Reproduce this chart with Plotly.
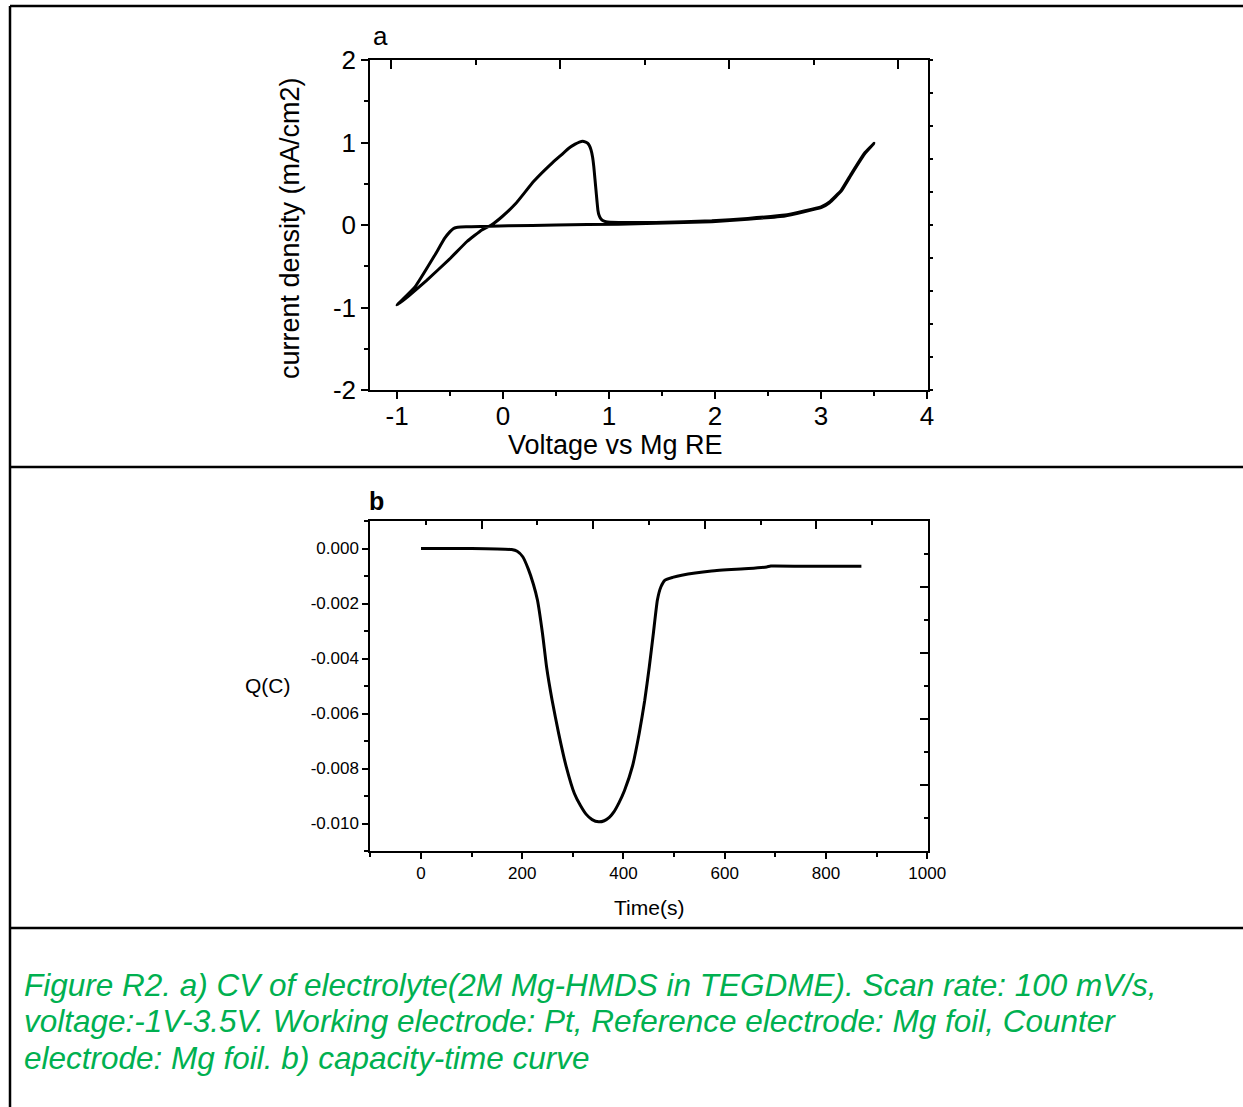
import plotly.graph_objects as go

# ---------------- data ----------------
# Panel a: cyclic voltammogram, one full cycle starting at -1 V (anodic sweep, then return)
cv_voltage = [-1.00, -0.90, -0.72, -0.51, -0.34, -0.20, -0.11, -0.01, 0.12, 0.29, 0.47, 0.55, 0.62,
              0.68, 0.72, 0.75, 0.78, 0.80, 0.815, 0.83, 0.845, 0.856, 0.867, 0.877, 0.887, 0.895,
              0.905, 0.92, 0.94, 0.97, 1.09, 1.44, 1.97, 2.31, 2.66, 2.84, 3.00, 3.08, 3.19, 3.29,
              3.41, 3.50,
              3.41, 3.29, 3.19, 3.08, 3.00, 2.84, 2.66, 2.31, 1.97, 1.44, 1.09, 0.50, 0.05, -0.30,
              -0.40, -0.44, -0.47, -0.50, -0.55, -0.65, -0.83, -1.00]
cv_current = [-0.97, -0.87, -0.67, -0.42, -0.20, -0.06, 0.00, 0.10, 0.26, 0.53, 0.76, 0.85, 0.93,
              0.98, 1.005, 1.015, 1.005, 0.99, 0.96, 0.91, 0.82, 0.71, 0.56, 0.42, 0.28, 0.18,
              0.12, 0.08, 0.055, 0.04, 0.03, 0.03, 0.05, 0.08, 0.12, 0.17, 0.22, 0.28, 0.42, 0.63,
              0.87, 0.99,
              0.86, 0.62, 0.41, 0.27, 0.21, 0.16, 0.11, 0.07, 0.04, 0.02, 0.01, 0.00, -0.01, -0.02,
              -0.025, -0.03, -0.045, -0.08, -0.16, -0.38, -0.75, -0.97]

# Panel b: capacity-time curve
time_s = [0, 100, 179, 190, 201, 212, 222, 230, 240, 248, 259, 272, 287, 303, 315, 326, 338, 351,
          362, 372, 381, 391, 402, 418, 431, 442, 451, 459, 467, 474, 482, 497, 515, 574, 647, 683,
          691, 757, 870]
charge_mC = [0.00, 0.00, -0.04, -0.10, -0.30, -0.75, -1.30, -1.87, -3.09, -4.30, -5.52, -6.73,
             -7.94, -8.91, -9.35, -9.66, -9.86, -9.94, -9.90, -9.78, -9.58, -9.25, -8.80, -7.90,
             -6.73, -5.52, -4.30, -3.09, -1.87, -1.39, -1.15, -1.05, -0.97, -0.82, -0.73, -0.67,
             -0.64, -0.65, -0.65]
charge_C = [q / 1000.0 for q in charge_mC]

# tick labels
a_xtick_vals = [-1, 0, 1, 2, 3, 4]
a_xtick_text = ["-1", "0", "1", "2", "3", "4"]
a_ytick_vals = [-2, -1, 0, 1, 2]
a_ytick_text = ["-2", "-1", "0", "1", "2"]
b_xtick_vals = [0, 200, 400, 600, 800, 1000]
b_xtick_text = ["0", "200", "400", "600", "800", "1000"]
b_ytick_vals = [0.000, -0.002, -0.004, -0.006, -0.008, -0.010]
b_ytick_text = ["0.000", "-0.002", "-0.004", "-0.006", "-0.008", "-0.010"]

caption_lines = [
    "Figure R2. a) CV of electrolyte(2M Mg-HMDS in TEGDME). Scan rate: 100 mV/s,",
    "voltage:-1V-3.5V. Working electrode: Pt, Reference electrode: Mg foil, Counter",
    "electrode: Mg foil. b) capacity-time curve",
]

# ---------------- layout helpers ----------------
W, H = 1243, 1107
FONT = "Arial, 'Liberation Sans', sans-serif"


def px(x):
    return x / W


def py(y):
    return 1 - y / H


xdom = [px(370), px(928)]
ydom_a = [py(390), py(60)]
ydom_b = [py(851), py(521)]

fig = go.Figure()
fig.add_trace(go.Scatter(x=cv_voltage, y=cv_current, mode="lines",
                         line=dict(color="black", width=3, shape="spline", smoothing=0.3),
                         xaxis="x", yaxis="y", showlegend=False))
fig.add_trace(go.Scatter(x=time_s, y=charge_C, mode="lines",
                         line=dict(color="black", width=3, shape="spline", smoothing=0.5),
                         xaxis="x3", yaxis="y3", showlegend=False))

axis_common = dict(showgrid=False, zeroline=False, showline=True, linecolor="black",
                   linewidth=1.5, tickcolor="black", tickwidth=1.5, automargin=False)

fig.update_layout(
    template="none",
    width=W, height=H, autosize=False,
    margin=dict(l=0, r=0, t=0, b=0, pad=0, autoexpand=False),
    showlegend=False,
    paper_bgcolor="white", plot_bgcolor="rgba(0,0,0,0)",
    font=dict(family=FONT, color="black"),
    # ---- panel a ----
    xaxis=dict(domain=xdom, anchor="y", range=[-1.255, 4.009], ticks="outside", ticklen=7,
               tickvals=a_xtick_vals, ticktext=a_xtick_text, tickfont=dict(size=26),
               ticklabelstandoff=-5,
               minor=dict(dtick=0.5, tick0=0, ticks="outside", ticklen=4, tickcolor="black",
                          tickwidth=1.5, showgrid=False), **axis_common),
    xaxis2=dict(overlaying="x", anchor="y", side="top", range=[-0.25, 6.354], ticks="inside",
                ticklen=9, tickvals=[0, 2, 4, 6], showticklabels=False,
                minor=dict(tickvals=[1, 3, 5], ticks="inside", ticklen=5, tickcolor="black",
                           tickwidth=1.5, showgrid=False), **axis_common),
    yaxis=dict(domain=ydom_a, anchor="x", range=[-2, 2], ticks="outside", ticklen=7,
               tickvals=a_ytick_vals, ticktext=a_ytick_text, tickfont=dict(size=26),
               minor=dict(dtick=0.5, tick0=0, ticks="outside", ticklen=4, tickcolor="black",
                          tickwidth=1.5, showgrid=False), **axis_common),
    yaxis2=dict(overlaying="y", anchor="x", side="right", range=[0, 10], ticks="outside",
                ticklen=3, dtick=1, showticklabels=False, **axis_common),
    # ---- panel b ----
    xaxis3=dict(domain=xdom, anchor="y3", range=[-100.8, 1001.6], ticks="outside", ticklen=6,
                tickvals=b_xtick_vals, ticktext=b_xtick_text, tickfont=dict(size=17),
                minor=dict(dtick=100, tick0=0, ticks="outside", ticklen=4, tickcolor="black",
                           tickwidth=1.5, showgrid=False), **axis_common),
    xaxis4=dict(overlaying="x3", anchor="y3", side="top", range=[0, 10], ticks="inside",
                ticklen=8, dtick=2, tick0=0, showticklabels=False,
                minor=dict(dtick=1, tick0=0, ticks="inside", ticklen=4, tickcolor="black",
                           tickwidth=1.5, showgrid=False), **axis_common),
    yaxis3=dict(domain=ydom_b, anchor="x3", range=[-0.011, 0.001], ticks="outside", ticklen=6,
                tickvals=b_ytick_vals, ticktext=b_ytick_text, tickfont=dict(size=17),
                minor=dict(dtick=0.001, tick0=0, ticks="outside", ticklen=4, tickcolor="black",
                           tickwidth=1.5, showgrid=False), **axis_common),
    yaxis4=dict(overlaying="y3", anchor="x3", side="right", range=[0, 10], ticks="inside",
                ticklen=8, dtick=2, tick0=0, showticklabels=False,
                minor=dict(dtick=1, tick0=0, ticks="inside", ticklen=4, tickcolor="black",
                           tickwidth=1.5, showgrid=False), **axis_common),
)

# phantom traces so overlay axes are drawn
fig.add_trace(go.Scatter(x=[None], y=[None], xaxis="x2", yaxis="y2", showlegend=False))
fig.add_trace(go.Scatter(x=[None], y=[None], xaxis="x4", yaxis="y4", showlegend=False))

annotations = [
    dict(text="a", x=px(381), y=py(36), font=dict(size=26)),
    dict(text="<b>b</b>", x=px(376), y=py(501), font=dict(size=25)),
    dict(text="Voltage vs Mg RE", x=px(615), y=py(445), font=dict(size=27)),
    dict(text="current density (mA/cm2)", x=px(290), y=py(228), font=dict(size=27), textangle=-90),
    dict(text="Time(s)", x=px(649), y=py(907), font=dict(size=21)),
    dict(text="Q(C)", x=px(268), y=py(685), font=dict(size=21)),
]
for a in annotations:
    a.update(xref="paper", yref="paper", showarrow=False, xanchor="center", yanchor="middle")
for line, yc in zip(caption_lines, [985, 1021, 1058]):
    annotations.append(dict(text="<i>" + line + "</i>", x=px(22), y=py(yc), xref="paper",
                            yref="paper", xanchor="left", yanchor="middle", align="left",
                            showarrow=False, font=dict(size=31.5, color="#00B050")))
fig.update_layout(annotations=annotations)

# table borders
border = dict(color="black", width=2.5)
shapes = [
    dict(type="line", xref="paper", yref="paper", x0=px(10), x1=px(10), y0=py(6), y1=0, line=border),
    dict(type="line", xref="paper", yref="paper", x0=px(10), x1=1, y0=py(6), y1=py(6), line=border),
    dict(type="line", xref="paper", yref="paper", x0=px(10), x1=1, y0=py(467), y1=py(467), line=border),
    dict(type="line", xref="paper", yref="paper", x0=px(10), x1=1, y0=py(928), y1=py(928), line=border),
]
fig.update_layout(shapes=shapes)

fig.write_html(
    "out.html",
    post_script=("document.documentElement.style.margin='0';"
                 "document.body.style.margin='0';document.body.style.padding='0';"
                 "document.body.style.overflow='hidden';"),
)
